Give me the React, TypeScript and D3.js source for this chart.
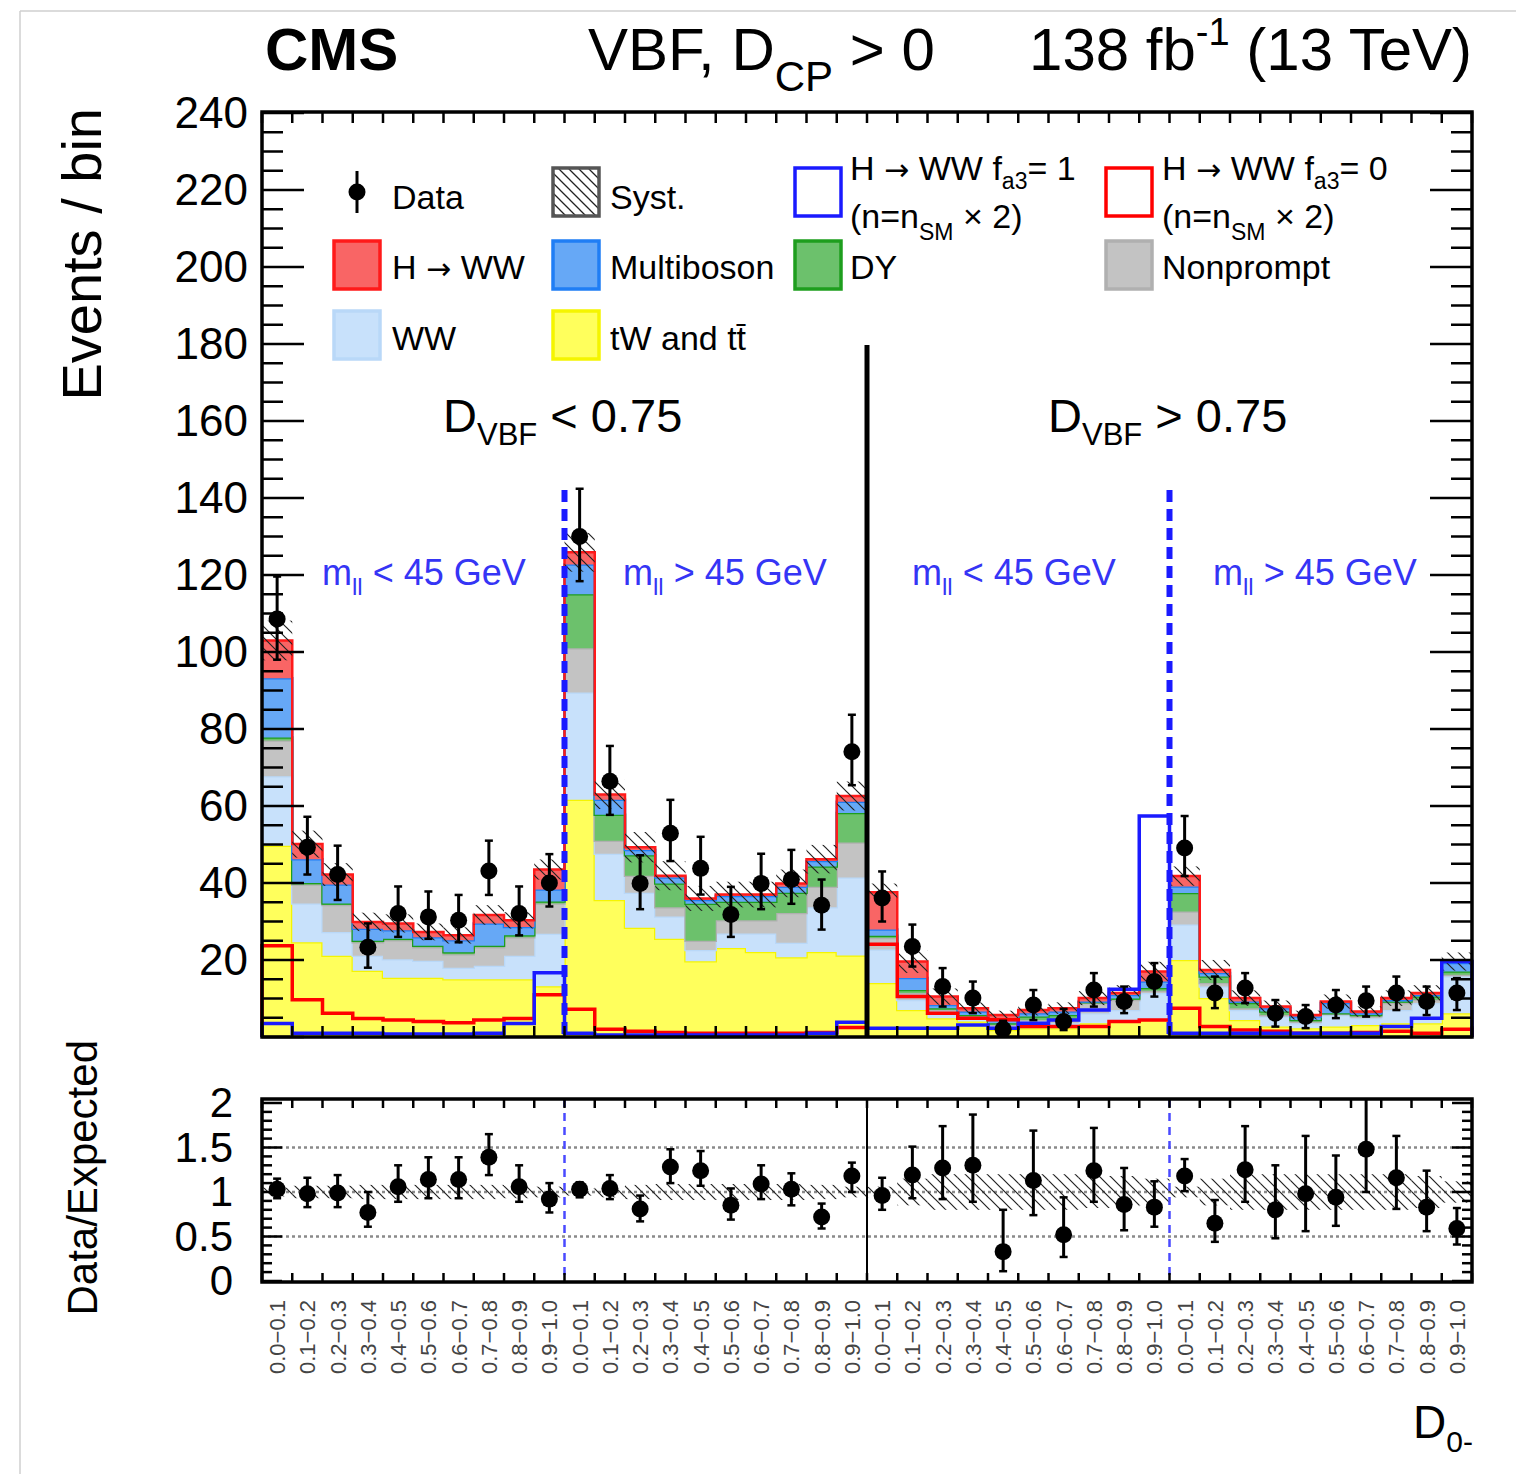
import React from "react";
import * as d3 from "d3";

const W = 1516;
const H = 1474;
const font = "'Liberation Sans', Arial, Helvetica, sans-serif";

// frame geometry
const left = 262;
const right = 1472;
const mainTop = 112;
const mainBottom = 1037;
const ratioTop = 1099;
const ratioBottom = 1282;

// bin labels along D0-
const binLabels = [
  "0.0−0.1", "0.1−0.2", "0.2−0.3", "0.3−0.4", "0.4−0.5",
  "0.5−0.6", "0.6−0.7", "0.7−0.8", "0.8−0.9", "0.9−1.0",
];
const tickLabels = [...binLabels, ...binLabels, ...binLabels, ...binLabels];

// stacked backgrounds, bottom to top (events / bin)
const tWtt = [
  49.7, 24.6, 21.1, 17.2, 15.4, 15.4, 15.0, 15.0, 15.0, 13.2,
  61.6, 35.6, 28.4, 25.5, 19.7, 23.1, 22.1, 20.7, 22.1, 21.2,
  14.0, 7.0, 4.9, 4.0, 1.8, 2.3, 2.3, 3.6, 4.4, 4.4,
  20.0, 10.1, 4.4, 2.7, 2.3, 2.7, 3.1, 3.6, 3.6, 6.2,
];
const ww = [
  18.0, 10.1, 6.2, 3.9, 4.8, 4.4, 3.0, 3.5, 6.1, 13.6,
  27.9, 12.0, 9.1, 5.8, 2.9, 3.8, 4.8, 3.8, 11.6, 20.2,
  8.7, 2.6, 1.7, 0.9, 0.9, 1.7, 1.3, 2.6, 2.6, 7.0,
  9.2, 3.0, 2.6, 2.6, 1.3, 3.0, 1.8, 3.4, 5.2, 9.5,
];
const nonprompt = [
  9.3, 4.9, 7.0, 3.5, 4.9, 3.5, 3.5, 4.8, 4.8, 7.9,
  11.5, 3.4, 4.4, 2.4, 2.4, 3.4, 3.4, 7.7, 5.3, 9.1,
  3.0, 1.8, 0.4, 0.4, 0.4, 0.4, 0.8, 2.6, 2.6, 0.6,
  3.4, 0.9, 0.5, 0.4, 0.4, 0.3, 0.5, 1.8, 0.8, 0.5,
];
const dy = [
  0.8, 0.4, 0.4, 0.4, 0.4, 0.4, 0.5, 0.4, 0.5, 0.5,
  14.0, 6.7, 5.3, 6.2, 9.6, 4.8, 4.8, 5.3, 5.3, 7.7,
  0.6, 0.8, 0.5, 0.4, 0.5, 0.9, 1.3, 0.2, 0.4, 0.7,
  4.8, 1.7, 1.3, 0.9, 0.4, 0.2, 0.3, 0.4, 0.9, 0.8,
];
const multiboson = [
  15.4, 6.2, 4.9, 3.1, 2.2, 2.2, 3.1, 5.8, 2.2, 3.1,
  7.7, 3.9, 1.4, 1.5, 1.0, 1.5, 1.5, 1.5, 1.4, 2.9,
  1.6, 3.1, 0.8, 0.9, 0.8, 0.9, 0.9, 0.2, 0.9, 1.7,
  1.7, 0.9, 0.4, 0.9, 0.9, 2.6, 0.5, 0.4, 0.4, 2.2,
];
const hww = [
  9.8, 3.9, 2.6, 1.8, 1.8, 1.4, 1.3, 2.2, 1.7, 5.2,
  3.2, 1.4, 0.7, 0.5, 0.4, 0.4, 0.4, 0.9, 0.5, 1.5,
  9.7, 4.3, 2.2, 0.9, 1.3, 0.8, 0.9, 0.9, 0.5, 2.6,
  2.7, 0.8, 0.9, 0.4, 0.4, 0.4, 0.4, 0.5, 0.5, 0.4,
];

// signal hypotheses (n = nSM x 2)
const hwwFa3One = [
  3.5, 1.0, 1.0, 1.0, 0.8, 0.8, 0.8, 1.0, 3.5, 16.7,
  1.0, 0.5, 0.5, 0.5, 0.5, 0.5, 0.5, 0.5, 1.0, 3.8,
  2.3, 2.3, 2.3, 3.1, 2.3, 3.6, 4.4, 7.0, 12.4, 57.4,
  1.0, 1.0, 1.0, 1.0, 1.0, 1.0, 1.0, 2.7, 4.9, 19.6,
];
const hwwFa3Zero = [
  23.7, 9.7, 6.2, 4.8, 4.4, 4.0, 3.7, 4.4, 4.8, 11.0,
  7.2, 2.0, 1.5, 1.2, 1.0, 1.0, 1.0, 1.0, 1.2, 2.5,
  24.1, 10.5, 6.2, 4.9, 4.5, 2.7, 2.7, 2.7, 4.0, 4.4,
  7.5, 2.7, 1.8, 1.5, 1.0, 1.0, 1.2, 1.5, 1.0, 2.0,
];

// observed data with error bar ends
const dataVals = [
  108.6, 49.3, 42.2, 23.3, 32.1, 31.2, 30.3, 43.1, 32.1, 40.0,
  130.0, 66.4, 39.9, 52.9, 43.8, 31.8, 39.9, 40.9, 34.2, 74.1,
  36.1, 23.5, 13.1, 10.1, 2.0, 8.3, 4.0, 12.2, 9.2, 14.4,
  49.1, 11.4, 12.7, 6.2, 5.3, 8.3, 9.4, 11.4, 9.2, 11.4,
];
const dataLo = [
  98.0, 42.2, 35.6, 18.0, 26.0, 25.5, 24.6, 36.9, 26.4, 33.9,
  118.4, 57.7, 33.2, 45.7, 37.0, 26.0, 33.2, 34.6, 27.9, 65.4,
  30.0, 18.3, 7.9, 6.2, 0.8, 4.4, 1.8, 7.9, 6.2, 10.5,
  41.8, 7.5, 8.8, 2.7, 2.3, 4.9, 5.3, 7.0, 5.7, 7.0,
];
const dataHi = [
  119.6, 57.2, 49.7, 29.5, 39.1, 37.8, 36.9, 51.0, 39.1, 47.5,
  142.4, 75.6, 47.2, 61.6, 52.0, 39.0, 47.6, 48.6, 40.9, 83.7,
  43.0, 29.2, 17.9, 14.4, 4.2, 12.2, 7.3, 16.6, 13.1, 19.2,
  57.4, 15.7, 16.6, 9.6, 8.3, 12.2, 13.1, 15.7, 13.1, 15.3,
];

// relative systematic uncertainty
const systRel = [
  0.05, 0.07, 0.07, 0.08, 0.08, 0.08, 0.08, 0.08, 0.07, 0.06,
  0.04, 0.06, 0.08, 0.09, 0.09, 0.09, 0.09, 0.09, 0.08, 0.06,
  0.06, 0.15, 0.2, 0.2, 0.2, 0.2, 0.2, 0.18, 0.18, 0.15,
  0.06, 0.15, 0.2, 0.2, 0.2, 0.2, 0.2, 0.2, 0.18, 0.12,
];

// data / expected
const ratioVals = [
  1.03, 0.98, 0.99, 0.77, 1.06, 1.14, 1.14, 1.39, 1.06, 0.92,
  1.03, 1.04, 0.81, 1.28, 1.24, 0.85, 1.09, 1.03, 0.72, 1.18,
  0.96, 1.19, 1.27, 1.30, 0.33, 1.13, 0.52, 1.24, 0.86, 0.83,
  1.18, 0.65, 1.25, 0.80, 0.98, 0.94, 1.48, 1.16, 0.83, 0.59,
];
const ratioLo = [
  0.93, 0.83, 0.83, 0.61, 0.89, 0.93, 0.93, 1.19, 0.89, 0.77,
  0.94, 0.92, 0.67, 1.10, 1.07, 0.69, 0.92, 0.85, 0.59, 1.0,
  0.80, 0.93, 0.92, 0.89, 0.11, 0.74, 0.27, 0.89, 0.57, 0.61,
  1.01, 0.44, 0.89, 0.48, 0.56, 0.62, 1.0, 0.81, 0.56, 0.41,
];
const ratioHi = [
  1.15, 1.16, 1.19, 1.0, 1.30, 1.39, 1.39, 1.65, 1.30, 1.10,
  1.11, 1.19, 0.96, 1.48, 1.46, 1.04, 1.30, 1.21, 0.87, 1.33,
  1.16, 1.51, 1.74, 1.87, 0.80, 1.69, 0.94, 1.72, 1.27, 1.12,
  1.37, 0.91, 1.74, 1.30, 1.63, 1.41, 2.3, 1.63, 1.24, 0.82,
];

const layers = [
  { key: "tWtt", values: tWtt, fill: "#ffff5c", stroke: "#f5f500" },
  { key: "ww", values: ww, fill: "#c8e1fb", stroke: "#b9d8f8" },
  { key: "nonprompt", values: nonprompt, fill: "#c3c3c3", stroke: "#b0b0b0" },
  { key: "dy", values: dy, fill: "#6cc16c", stroke: "#1e9e1e" },
  { key: "multiboson", values: multiboson, fill: "#66a8f6", stroke: "#1f7ef5" },
  { key: "hww", values: hww, fill: "#f96565", stroke: "#ff1a1a" },
];

const nBins = tWtt.length;
const table = d3.range(nBins).map((i) => {
  const row: any = { bin: i };
  layers.forEach((l) => (row[l.key] = l.values[i]));
  return row;
});
const stacked = d3.stack().keys(layers.map((l) => l.key))(table);
const totals = table.map((_, i) => d3.sum(layers, (l) => l.values[i]));

const xs = d3.scaleLinear().domain([0, nBins]).range([left, right]);
const ys = d3.scaleLinear().domain([0, 240]).range([mainBottom, 113]);
const yr = d3.scaleLinear().domain([0, 2]).range([1281, 1103]);

const stepArea = d3
  .area<any>()
  .x((d) => xs(d.x))
  .y0((d) => ys(d.y0))
  .y1((d) => ys(d.y1))
  .curve(d3.curveStepAfter);
const stepTop = d3
  .line<any>()
  .x((d) => xs(d.x))
  .y((d) => ys(d.y1))
  .curve(d3.curveStepAfter);
const histLine = d3
  .line<[number, number]>()
  .x((d) => xs(d[0]))
  .y((d) => ys(d[1]))
  .curve(d3.curveStepAfter);

const histPoints = (vals: number[]): [number, number][] => [
  [0, 0],
  ...vals.map((v, i) => [i, v] as [number, number]),
  [nBins, vals[nBins - 1]],
  [nBins, 0],
];

const BLUE = "#1a1aff";
const RED = "#ff0000";
const LABEL_BLUE = "#3535f5";

// subscript followed by the rest of the text back on the baseline
const sub = (s: string, size: number, shift: number, after: string) => [
  <tspan key="s" fontSize={size} dy={shift}>{s}</tspan>,
  <tspan key="a" dy={-shift}>{after}</tspan>,
];

const Arrow = () => (
  <tspan fontFamily="'DejaVu Sans', sans-serif" fontSize={30}>{" → "}</tspan>
);

const LegendBox = ({ x, y, fill, stroke, hatch }: any) => (
  <rect
    x={x}
    y={y}
    width={46}
    height={48}
    fill={hatch ? "url(#hatchLegend)" : fill}
    stroke={stroke}
    strokeWidth={3.5}
  />
);

const App = () => {
  const mainYMajor = d3.range(0, 241, 20);
  const mainYMinor = d3.range(0, 241, 5).filter((v) => v % 20 !== 0);
  const ratioMajor = [0, 0.5, 1, 1.5, 2];
  const ratioMinor = d3.range(0, 2.001, 0.1).filter((v) => Math.abs(v * 2 - Math.round(v * 2)) > 0.01);
  const edges = d3.range(0, nBins + 1);

  return (
    <svg
      width={W}
      height={H}
      style={{ position: "absolute", left: 0, top: 0, background: "#fff" }}
      fontFamily={font}
    >
      <defs>
        <pattern id="hatch" patternUnits="userSpaceOnUse" width="11" height="11">
          <path d="M-3,-3 L14,14 M-3,8 L3,14 M8,-3 L14,3" stroke="#222" strokeWidth="1.2" />
        </pattern>
        <pattern id="hatchLegend" patternUnits="userSpaceOnUse" width="10" height="10">
          <path d="M-3,-3 L13,13 M-3,7 L3,13 M7,-3 L13,3" stroke="#222" strokeWidth="1.3" />
        </pattern>
        <clipPath id="ratioClip">
          <rect x={left} y={ratioTop} width={right - left} height={ratioBottom - ratioTop} />
        </clipPath>
      </defs>

      <rect x={0} y={0} width={W} height={H} fill="#fff" />
      {/* page border */}
      <line x1={20} y1={11} x2={W} y2={11} stroke="#cfcfcf" strokeWidth={1.5} />
      <line x1={20} y1={11} x2={20} y2={H} stroke="#cfcfcf" strokeWidth={1.5} />

      {/* header */}
      <text x={265} y={70} fontSize={60} fontWeight="bold">CMS</text>
      <text x={588} y={70} fontSize={60}>
        VBF, D{sub("CP", 42, 21, " > 0")}
      </text>
      <text x={1472} y={70} fontSize={60} textAnchor="end">
        138 fb<tspan fontSize={38} dy={-25}>-1</tspan>
        <tspan dy={25}> (13 TeV)</tspan>
      </text>

      {/* stacked backgrounds */}
      {stacked.map((s, li) => {
        const pts = s.map((d, i) => ({ x: i, y0: d[0], y1: d[1] }));
        pts.push({ x: nBins, y0: pts[nBins - 1].y0, y1: pts[nBins - 1].y1 });
        return (
          <g key={layers[li].key}>
            <path d={stepArea(pts) || ""} fill={layers[li].fill} />
            <path d={stepTop(pts) || ""} fill="none" stroke={layers[li].stroke} strokeWidth={2.5} />
          </g>
        );
      })}

      {/* syst band */}
      {totals.map((t, i) => (
        <rect
          key={"sys" + i}
          x={xs(i)}
          width={xs(i + 1) - xs(i)}
          y={ys(t * (1 + systRel[i]))}
          height={ys(t * (1 - systRel[i])) - ys(t * (1 + systRel[i]))}
          fill="url(#hatch)"
        />
      ))}

      {/* signal hypotheses */}
      <path d={histLine(histPoints(hwwFa3Zero)) || ""} fill="none" stroke={RED} strokeWidth={3.5} />
      <path d={histLine(histPoints(hwwFa3One)) || ""} fill="none" stroke={BLUE} strokeWidth={3.5} />

      {/* region separators */}
      <line x1={xs(20)} x2={xs(20)} y1={345} y2={mainBottom} stroke="#000" strokeWidth={5} />
      {[10, 30].map((b) => (
        <line
          key={"dash" + b}
          x1={xs(b)}
          x2={xs(b)}
          y1={490}
          y2={mainBottom}
          stroke={BLUE}
          strokeWidth={6}
          strokeDasharray="12,7"
        />
      ))}

      {/* data */}
      {dataVals.map((v, i) => {
        const cx = xs(i + 0.5);
        return (
          <g key={"d" + i}>
            <line x1={cx} x2={cx} y1={ys(dataLo[i])} y2={ys(dataHi[i])} stroke="#000" strokeWidth={3} />
            <line x1={cx - 4} x2={cx + 4} y1={ys(dataHi[i])} y2={ys(dataHi[i])} stroke="#000" strokeWidth={2.5} />
            <line x1={cx - 4} x2={cx + 4} y1={ys(dataLo[i])} y2={ys(dataLo[i])} stroke="#000" strokeWidth={2.5} />
            <circle cx={cx} cy={ys(v)} r={8.5} fill="#000" />
          </g>
        );
      })}

      {/* region labels */}
      <text x={443} y={432} fontSize={47}>
        D{sub("VBF", 31, 13, " < 0.75")}
      </text>
      <text x={1048} y={432} fontSize={47}>
        D{sub("VBF", 31, 13, " > 0.75")}
      </text>
      {[
        { x: 322, t: " < 45 GeV" },
        { x: 623, t: " > 45 GeV" },
        { x: 912, t: " < 45 GeV" },
        { x: 1213, t: " > 45 GeV" },
      ].map((m, i) => (
        <text key={"m" + i} x={m.x} y={585} fontSize={36} fill={LABEL_BLUE}>
          m{sub("ll", 24, 10, m.t)}
        </text>
      ))}

      {/* legend */}
      <g fontSize={34}>
        <line x1={357} x2={357} y1={171} y2={213} stroke="#000" strokeWidth={3} />
        <circle cx={357} cy={192} r={8.5} fill="#000" />
        <text x={392} y={209}>Data</text>

        <LegendBox x={553} y={168} stroke="#555" hatch />
        <text x={610} y={209}>Syst.</text>

        <LegendBox x={795} y={168} fill="none" stroke={BLUE} />
        <text x={850} y={180}>
          H<Arrow />WW f{sub("a3", 23, 9, "= 1")}
        </text>
        <text x={850} y={228}>
          (n=n{sub("SM", 23, 12, " × 2)")}
        </text>

        <LegendBox x={1106} y={168} fill="none" stroke={RED} />
        <text x={1162} y={180}>
          H<Arrow />WW f{sub("a3", 23, 9, "= 0")}
        </text>
        <text x={1162} y={228}>
          (n=n{sub("SM", 23, 12, " × 2)")}
        </text>

        <LegendBox x={334} y={241} fill={layers[5].fill} stroke={layers[5].stroke} />
        <text x={392} y={279}>
          H<Arrow />WW
        </text>
        <LegendBox x={553} y={241} fill={layers[4].fill} stroke={layers[4].stroke} />
        <text x={610} y={279}>Multiboson</text>
        <LegendBox x={795} y={241} fill={layers[3].fill} stroke={layers[3].stroke} />
        <text x={850} y={279}>DY</text>
        <LegendBox x={1106} y={241} fill={layers[2].fill} stroke={layers[2].stroke} />
        <text x={1162} y={279}>Nonprompt</text>

        <LegendBox x={334} y={311} fill={layers[1].fill} stroke={layers[1].stroke} />
        <text x={392} y={350}>WW</text>
        <LegendBox x={553} y={311} fill={layers[0].fill} stroke={layers[0].stroke} />
        <text x={610} y={350}>tW and t{"t\u0304"}</text>
      </g>

      {/* main frame and ticks */}
      <g stroke="#000">
        {mainYMajor.map((v) => (
          <g key={"ym" + v}>
            <line x1={left} x2={left + 42} y1={ys(v)} y2={ys(v)} strokeWidth={2.5} />
            <line x1={right - 42} x2={right} y1={ys(v)} y2={ys(v)} strokeWidth={2.5} />
          </g>
        ))}
        {mainYMinor.map((v) => (
          <g key={"yn" + v}>
            <line x1={left} x2={left + 21} y1={ys(v)} y2={ys(v)} strokeWidth={2.5} />
            <line x1={right - 21} x2={right} y1={ys(v)} y2={ys(v)} strokeWidth={2.5} />
          </g>
        ))}
        {edges.map((e) => (
          <g key={"xt" + e}>
            <line x1={xs(e)} x2={xs(e)} y1={mainBottom} y2={mainBottom - 11} strokeWidth={2.5} />
            <line x1={xs(e)} x2={xs(e)} y1={mainTop} y2={mainTop + 11} strokeWidth={2.5} />
          </g>
        ))}
        <rect x={left} y={mainTop} width={right - left} height={mainBottom - mainTop} fill="none" strokeWidth={3.5} />
      </g>
      {mainYMajor.filter((v) => v > 0).map((v) => (
        <text key={"yl" + v} x={248} y={ys(v) + 15} fontSize={44} textAnchor="end">
          {v}
        </text>
      ))}
      <text transform="translate(101,108) rotate(-90)" fontSize={56} textAnchor="end">
        Events / bin
      </text>

      {/* ratio panel */}
      {[0.5, 1, 1.5].map((v) => (
        <line
          key={"grid" + v}
          x1={left}
          x2={right}
          y1={yr(v)}
          y2={yr(v)}
          stroke="#8a8a8a"
          strokeWidth={2.5}
          strokeDasharray="3,3"
        />
      ))}
      {totals.map((_, i) => (
        <rect
          key={"rs" + i}
          x={xs(i)}
          width={xs(i + 1) - xs(i)}
          y={yr(1 + systRel[i])}
          height={yr(1 - systRel[i]) - yr(1 + systRel[i])}
          fill="url(#hatch)"
        />
      ))}
      <line x1={xs(20)} x2={xs(20)} y1={ratioTop} y2={ratioBottom} stroke="#000" strokeWidth={2} />
      {[10, 30].map((b) => (
        <line
          key={"rdash" + b}
          x1={xs(b)}
          x2={xs(b)}
          y1={ratioTop}
          y2={ratioBottom}
          stroke="#4a4aff"
          strokeWidth={2.5}
          strokeDasharray="8,6"
        />
      ))}
      <g clipPath="url(#ratioClip)">
        {ratioVals.map((v, i) => {
          const cx = xs(i + 0.5);
          return (
            <g key={"r" + i}>
              <line x1={cx} x2={cx} y1={yr(ratioLo[i])} y2={yr(ratioHi[i])} stroke="#000" strokeWidth={3} />
              <line x1={cx - 4} x2={cx + 4} y1={yr(ratioHi[i])} y2={yr(ratioHi[i])} stroke="#000" strokeWidth={2.5} />
              <line x1={cx - 4} x2={cx + 4} y1={yr(ratioLo[i])} y2={yr(ratioLo[i])} stroke="#000" strokeWidth={2.5} />
              <circle cx={cx} cy={yr(v)} r={8.5} fill="#000" />
            </g>
          );
        })}
      </g>
      <g stroke="#000">
        {ratioMajor.map((v) => (
          <g key={"rm" + v}>
            <line x1={left} x2={left + 20} y1={yr(v)} y2={yr(v)} strokeWidth={2.5} />
            <line x1={right - 20} x2={right} y1={yr(v)} y2={yr(v)} strokeWidth={2.5} />
          </g>
        ))}
        {ratioMinor.map((v) => (
          <g key={"rn" + v.toFixed(1)}>
            <line x1={left} x2={left + 10} y1={yr(v)} y2={yr(v)} strokeWidth={2.5} />
            <line x1={right - 10} x2={right} y1={yr(v)} y2={yr(v)} strokeWidth={2.5} />
          </g>
        ))}
        {edges.map((e) => (
          <g key={"rx" + e}>
            <line x1={xs(e)} x2={xs(e)} y1={ratioBottom} y2={ratioBottom - 9} strokeWidth={2.5} />
            <line x1={xs(e)} x2={xs(e)} y1={ratioTop} y2={ratioTop + 9} strokeWidth={2.5} />
          </g>
        ))}
        <rect x={left} y={ratioTop} width={right - left} height={ratioBottom - ratioTop} fill="none" strokeWidth={3.5} />
      </g>
      {ratioMajor.map((v) => (
        <text key={"rl" + v} x={233} y={yr(v) + 14} fontSize={42} textAnchor="end">
          {v}
        </text>
      ))}
      <text transform="translate(97,1040) rotate(-90)" fontSize={42} textAnchor="end">
        Data/Expected
      </text>

      {/* bin labels */}
      {tickLabels.map((t, i) => (
        <text
          key={"tl" + i}
          transform={`translate(${xs(i + 0.5) + 8},1300) rotate(-90)`}
          fontSize={22}
          fill="#444"
          textAnchor="end"
        >
          {t}
        </text>
      ))}
      <text x={1413} y={1438} fontSize={46}>
        D<tspan fontSize={30} dy={14}>0-</tspan>
      </text>
    </svg>
  );
};

export default App;
